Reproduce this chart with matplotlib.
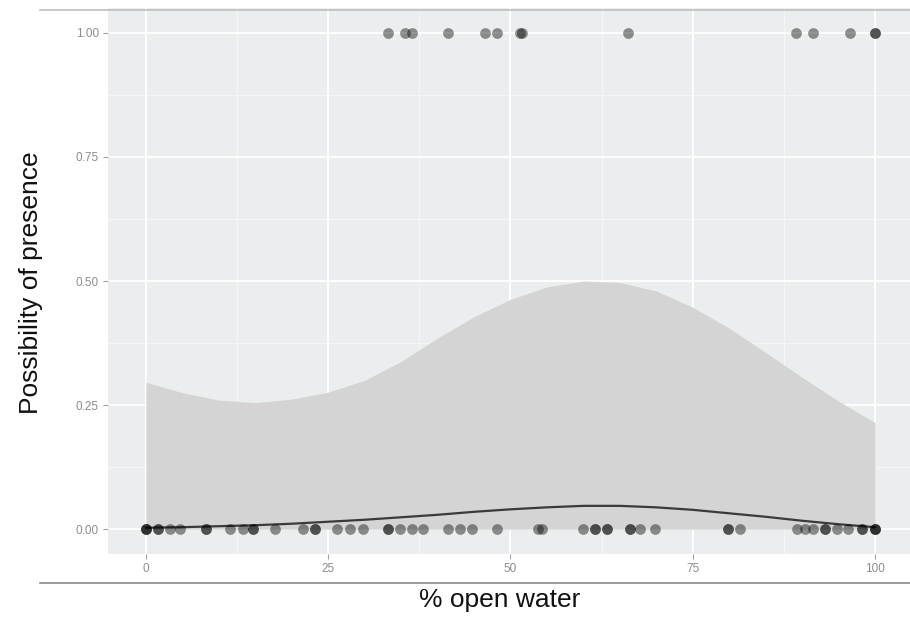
import matplotlib
matplotlib.use("Agg")
import matplotlib.pyplot as plt
from matplotlib.lines import Line2D

plt.rcParams['font.family'] = ['Liberation Sans', 'DejaVu Sans']

# observed points: % open water where absent (0) and present (1)
absent_x = [0, 0, 0, 1.6, 1.6, 3.3, 4.7, 8.2, 8.2, 11.5, 13.3, 14.7, 14.7, 17.7,
            21.5, 23.2, 23.2, 26.2, 28.0, 29.8, 33.2, 33.2, 34.8, 36.5, 38.0,
            41.4, 43.1, 44.7, 48.1, 53.8, 54.3, 59.9, 61.6, 61.6, 63.2, 63.2,
            66.4, 66.4, 67.8, 69.8, 79.8, 79.8, 81.5, 89.3, 90.4, 91.5, 93.1,
            93.1, 94.8, 96.3, 98.2, 98.2, 100, 100, 100]
present_x = [33.2, 35.5, 36.5, 41.4, 46.5, 48.1, 51.3, 51.6, 66.1, 89.2, 91.5,
             96.6, 100, 100]

# fitted curve and confidence band
fit_x = [0, 5, 10, 15, 20, 25, 30, 35, 40, 45, 50, 55, 60, 65, 70, 75, 80, 85, 90, 95, 100]
fit_y = [0.003, 0.004, 0.006, 0.008, 0.011, 0.015, 0.019, 0.024, 0.029, 0.035, 0.040,
         0.044, 0.047, 0.047, 0.044, 0.039, 0.032, 0.025, 0.017, 0.010, 0.004]
upper_y = [0.296, 0.275, 0.260, 0.255, 0.262, 0.276, 0.300, 0.338, 0.385, 0.428, 0.463,
           0.488, 0.500, 0.497, 0.480, 0.447, 0.405, 0.356, 0.306, 0.258, 0.215]
lower_y = [0.0] * len(fit_x)

x_ticks = [0, 25, 50, 75, 100]
x_labels = ["0", "25", "50", "75", "100"]
y_ticks = [0.0, 0.25, 0.5, 0.75, 1.0]
y_labels = ["0.00", "0.25", "0.50", "0.75", "1.00"]

fig = plt.figure(figsize=(9.10, 6.17), dpi=100)
W, H = 910, 617
ax = fig.add_axes([108 / W, 1 - 554 / H, (910 - 108) / W, (554 - 8) / H])
ax.set_facecolor('#ebeeee')
ax.set_xlim(-5.2, 104.8)
ax.set_ylim(-0.05, 1.05)

# grid
for v in [12.5, 37.5, 62.5, 87.5]:
    ax.axvline(v, color='#f7f7f7', lw=0.6, zorder=0.5)
for v in [0.125, 0.375, 0.625, 0.875]:
    ax.axhline(v, color='#f7f7f7', lw=0.6, zorder=0.5)
for v in x_ticks:
    ax.axvline(v, color='white', lw=1.3, zorder=0.6)
for v in y_ticks:
    ax.axhline(v, color='white', lw=1.3, zorder=0.6)

ax.fill_between(fit_x, lower_y, upper_y, color='#d4d4d4', lw=0, zorder=1)
ax.plot(fit_x, fit_y, color='#3a3a3a', lw=1.6, zorder=2, solid_capstyle='round')

ax.scatter(absent_x, [0] * len(absent_x), s=60, color='black', alpha=0.42, lw=0, zorder=3)
ax.scatter(present_x, [1] * len(present_x), s=60, color='black', alpha=0.42, lw=0, zorder=3)

for s in ax.spines.values():
    s.set_visible(False)
ax.set_xticks(x_ticks)
ax.set_xticklabels(x_labels)
ax.set_yticks(y_ticks)
ax.set_yticklabels(y_labels)
ax.tick_params(axis='both', colors='#a0a0a0', labelcolor='#8c8c8c', labelsize=8.5,
               length=3.5, width=0.8, pad=3)

fig.text(31 / W, 1 - 283 / H, 'Possibility of presence', rotation=90, ha='center', va='center',
         fontsize=19, color='#111111')
fig.text(500 / W, 1 - 600 / H, '% open water', ha='center', va='center',
         fontsize=19, color='#111111')

# page border lines
fig.add_artist(Line2D([40 / W, 1], [1 - 10 / H, 1 - 10 / H], color='#bdbdbd', lw=1.2))
fig.add_artist(Line2D([40 / W, 1], [1 - 583 / H, 1 - 583 / H], color='#8a8a8a', lw=1.2))

fig.savefig('out.png', dpi=100, facecolor='white')
